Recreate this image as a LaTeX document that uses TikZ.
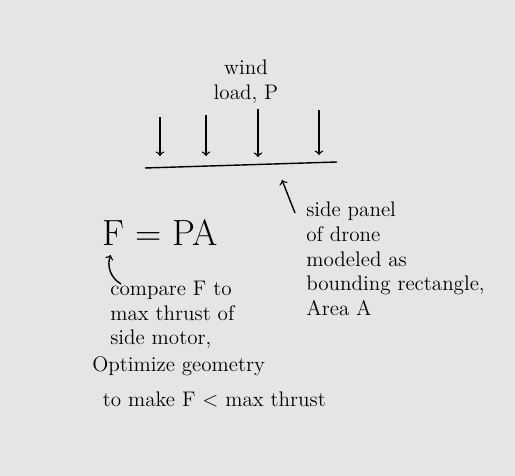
\documentclass[tikz,border=0pt]{standalone}
\usetikzlibrary{positioning}

\begin{document}
\begin{tikzpicture}[
        x=0.02cm, y=-0.02cm,
        every node/.style={align=left, font=\large, inner sep=0pt},
        load/.style={->, thick},
        note/.style={->, thick},
        panel/.style={thick}
    ]
        % Page
        \fill[black!10] (0,0) rectangle (515,476);

        % Nodes
        \node[align=center] (wind) at (246,82) {wind\\load, P};
        \node[font=\huge] (fpa) at (160,233) {F = PA};
        \node[anchor=north west] (side) at (306,202) {side panel\\of drone\\modeled as\\bounding rectangle,\\Area A};
        \node[anchor=north west] (cmp) at (110,281) {compare F to\\max thrust of\\side motor,};
        \node[anchor=north west] (opt) at (92,356) {Optimize geometry\\[6pt]\hspace*{6pt}to make F $<$ max thrust};

        % Coordinates
        \coordinate (pl) at (145,168);
        \coordinate (pr) at (337,162);
        \coordinate (w1) at (160,117);
        \coordinate (w2) at (206,115);
        \coordinate (w3) at (258,109);
        \coordinate (w4) at (319,110);
        \coordinate (h1) at (160,156);
        \coordinate (h2) at (206,156);
        \coordinate (h3) at (258,157);
        \coordinate (h4) at (319,155);
        \coordinate (tip) at (282,180);
        \coordinate (tail) at (295,213);
        \coordinate (hook) at (121,284);

        % Connections
        \draw[panel] (pl) -- (pr);
        \draw[load] (w1) -- (h1);
        \draw[load] (w2) -- (h2);
        \draw[load] (w3) -- (h3);
        \draw[load] (w4) -- (h4);
        \draw[note] (tail) -- (tip);
        \draw[note] (hook) to[bend left=40] ([xshift=5pt,yshift=-5pt]fpa.south west);

    \end{tikzpicture}
\end{document}
